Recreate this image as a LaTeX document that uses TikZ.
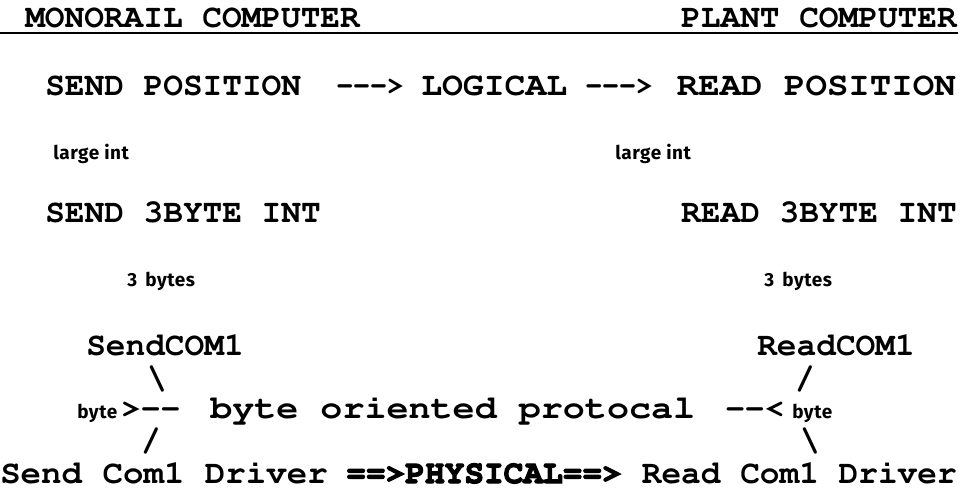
\documentclass[tikz,border=0pt]{standalone}
\usepackage[T1]{fontenc}
\usepackage{fontspec}
\newfontfamily\labelfont{Fira Sans}[LetterSpace=3]
\newcommand{\typefont}{\fontencoding{T1}\fontfamily{pcr}\fontseries{b}\fontshape{n}\fontsize{24.6}{28}\selectfont}
\newcommand{\heavy}[1]{\special{pdf:literal direct 2 Tr 0.9 w}#1\special{pdf:literal direct 0 Tr}}
\newcommand{\wider}[2]{\scalebox{#1}[1]{#2}}

\begin{document}
\begin{tikzpicture}[x=0.75pt, y=-0.75pt,
  tt/.style={anchor=base west, inner sep=0pt, font=\typefont},
  lb/.style={anchor=base west, inner sep=0pt, font=\labelfont\bfseries\fontsize{14.2}{16}\selectfont}]

\useasboundingbox (0,0) rectangle (964,488);

\coordinate (u0) at (0,33);
\coordinate (u1) at (958,33);

% headings
  \node[tt] (monorail) at (25,28) {MONORAIL COMPUTER};
  \node[tt, anchor=base east] (plant) at (957,28) {PLANT COMPUTER};
  \draw[line width=1.4pt] (u0) -- (u1);

% logical
  \node[tt] (sendpos) at (45,96) {SEND POSITION};
  \node[tt] (arra) at (336,96) {\wider{0.86}{{-}{-}{-}>}};
  \node[tt] (logical) at (421,96) {\wider{1.06}{LOGICAL}};
  \node[tt] (arrb) at (585,96) {\wider{0.86}{{-}{-}{-}>}};
  \node[tt, anchor=base east] (readpos) at (956,96) {\wider{1.09}{READ POSITION}};

  \node[lb] (intl) at (53,160) {large int};
  \node[lb] (intr) at (615,160) {large int};

% 3 byte ints
  \node[tt] (send3) at (45,223) {SEND 3BYTE INT};
  \node[tt, anchor=base east] (read3) at (957,223) {READ 3BYTE INT};

  \node[lb] (bytesl) at (127,287) {3 \,bytes};
  \node[lb] (bytesr) at (764,287) {3 \,bytes};

% com1
  \node[tt] (sendcom) at (86,355) {SendCOM1};
  \node[tt, anchor=base east] (readcom) at (915,355) {ReadCOM1};
  \node[tt, anchor=base] (bsl) at (157,388) {\textbackslash};
  \node[tt, anchor=base] (slr) at (805,388) {/};

% byte protocal
  \node[lb] (bytel) at (77,418) {byte};
  \node[tt] (joinl) at (121,418) {>{-}{-}};
  \node[tt] (proto) at (210,418) {\wider{1.12}{byte oriented protocal}};
  \node[tt] (joinr) at (725,418) {{-}{-}<};
  \node[lb] (byter) at (792,418) {byte};

  \node[tt, anchor=base] (sll) at (151,450) {/};
  \node[tt, anchor=base] (bsr) at (810,450) {\textbackslash};

% drivers
  \node[tt] (senddrv) at (0,483) {\wider{1.04}{Send Com1 Driver}};
  \node[tt] (phys) at (346,483) {\heavy{==>PHYSICAL==>}};
  \node[tt, anchor=base east] (readdrv) at (957,483) {Read Com1 Driver};

\end{tikzpicture}
\end{document}
